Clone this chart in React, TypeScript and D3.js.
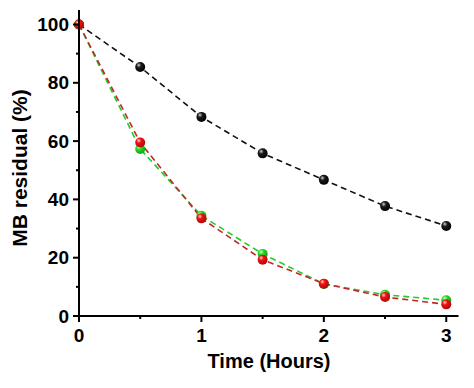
import React from "react";
import * as d3 from "d3";

const times = [0, 0.5, 1, 1.5, 2, 2.5, 3];
const blackSeries = [100, 85.4, 68.3, 55.8, 46.7, 37.7, 30.9];
const greenSeries = [100, 57.3, 34.4, 21.3, 11.0, 7.3, 5.4];
const redSeries = [100, 59.5, 33.5, 19.3, 11.1, 6.5, 4.0];
const xMajorTicks = [0, 1, 2, 3];
const xMinorTicks = [0.5, 1.5, 2.5];
const yMajorTicks = [0, 20, 40, 60, 80, 100];
const yMinorTicks = [10, 30, 50, 70, 90];

const W = 474;
const H = 388;

export default function App() {
  const x = d3.scaleLinear().domain([0, 3.1]).range([79, 458.5]);
  const y = d3.scaleLinear().domain([0, 105]).range([316, 316 - 105 * 2.915]);
  const line = d3
    .line<number>()
    .x((_, i) => x(times[i]))
    .y((d) => y(d))
    .curve(d3.curveLinear);

  const series = [
    { id: "blk", data: blackSeries, stroke: "#111", base: "#1a1a1a", hi: "#d0d0d0" },
    { id: "grn", data: greenSeries, stroke: "#22cc22", base: "#22dd22", hi: "#d8ffd8" },
    { id: "red", data: redSeries, stroke: "#c0282a", base: "#ee1111", hi: "#ffd0d0" },
  ];
  const font = "'Liberation Sans', Arial, sans-serif";

  return (
    <div style={{ position: "fixed", left: 0, top: 0 }}>
      <svg width={W} height={H} style={{ display: "block", background: "#fff" }}>
        <defs>
          {series.map((s) => (
            <radialGradient key={s.id} id={"g-" + s.id} cx="0.38" cy="0.35" r="0.7" fx="0.35" fy="0.3">
              <stop offset="0%" stopColor={s.hi} />
              <stop offset="35%" stopColor={s.base} />
              <stop offset="100%" stopColor={s.id === "blk" ? "#000" : d3.color(s.base)!.darker(1).toString()} />
            </radialGradient>
          ))}
        </defs>
        {series.map((s) => (
          <path
            key={"l" + s.id}
            d={line(s.data) || ""}
            fill="none"
            stroke={s.stroke}
            strokeWidth={1.6}
            strokeDasharray="6,4"
          />
        ))}
        {series.map((s) =>
          s.data.map((v, i) => (
            <circle key={s.id + i} cx={x(times[i])} cy={y(v)} r={5} fill={`url(#g-${s.id})`} />
          ))
        )}
        <line x1={x(0)} x2={x(0)} y1={y(0) + 1} y2={y(105)} stroke="#000" strokeWidth={2} />
        <line x1={x(0) - 1} x2={x(3.1)} y1={y(0)} y2={y(0)} stroke="#000" strokeWidth={2} />
        {yMajorTicks.map((t) => (
          <g key={"ym" + t}>
            <line x1={x(0) - 6} x2={x(0)} y1={y(t)} y2={y(t)} stroke="#000" strokeWidth={2} />
            <text
              x={x(0) - 10}
              y={y(t)}
              dy="0.35em"
              textAnchor="end"
              fontFamily={font}
              fontWeight="bold"
              fontSize={19}
              fill="#000"
            >
              {t}
            </text>
          </g>
        ))}
        {yMinorTicks.map((t) => (
          <line key={"yn" + t} x1={x(0) - 3} x2={x(0)} y1={y(t)} y2={y(t)} stroke="#000" strokeWidth={2} />
        ))}
        {xMajorTicks.map((t) => (
          <g key={"xm" + t}>
            <line x1={x(t)} x2={x(t)} y1={y(0)} y2={y(0) + 6} stroke="#000" strokeWidth={2} />
            <text
              x={x(t)}
              y={342}
              textAnchor="middle"
              fontFamily={font}
              fontWeight="bold"
              fontSize={19}
              fill="#000"
            >
              {t}
            </text>
          </g>
        ))}
        {xMinorTicks.map((t) => (
          <line key={"xn" + t} x1={x(t)} x2={x(t)} y1={y(0)} y2={y(0) + 3} stroke="#000" strokeWidth={2} />
        ))}
        <text
          x={269}
          y={368}
          textAnchor="middle"
          fontFamily={font}
          fontWeight="bold"
          fontSize={20}
          fill="#000"
        >
          Time (Hours)
        </text>
        <text
          transform={`translate(27, 168) rotate(-90)`}
          textAnchor="middle"
          fontFamily={font}
          fontWeight="bold"
          fontSize={21}
          fill="#000"
        >
          MB residual (%)
        </text>
      </svg>
    </div>
  );
}
